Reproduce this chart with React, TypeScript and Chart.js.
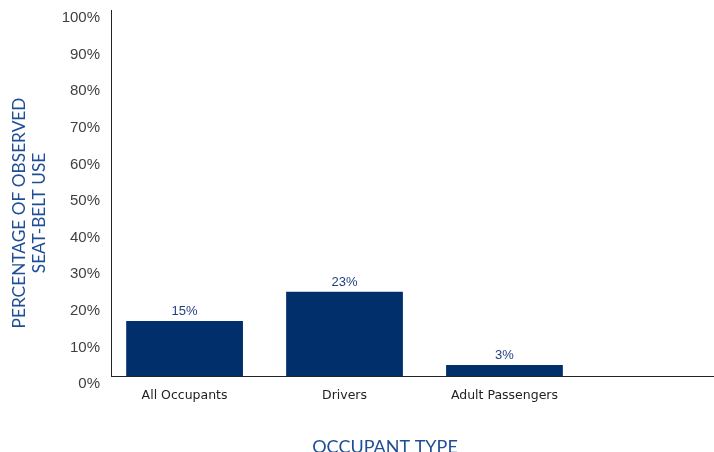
import React, { useEffect, useRef } from "react";
import { Chart, registerables } from "chart.js";

Chart.register(...registerables);

const categories = ["All Occupants", "Drivers", "Adult Passengers"];
const values = [15, 23, 3];
const valueLabels = ["15%", "23%", "3%"];
const yTicks = [0, 10, 20, 30, 40, 50, 60, 70, 80, 90, 100];
const yTitleLines = ["PERCENTAGE OF OBSERVED", "SEAT-BELT USE"];
const xTitle = "OCCUPANT TYPE";

const Y_TITLE_FONT = '17.3px Lato, "DejaVu Sans Condensed", sans-serif';
const X_TITLE_FONT = '18px Lato, "DejaVu Sans Condensed", sans-serif';
const TITLE_COLOR = "#1F4E96";

const labelsPlugin = {
  id: "barLabels",
  afterDatasetsDraw(chart: any) {
    const ctx = chart.ctx;
    const meta = chart.getDatasetMeta(0);
    ctx.save();
    ctx.font = '13px "Liberation Sans", Arial, sans-serif';
    ctx.fillStyle = "#1F3F80";
    ctx.textAlign = "center";
    ctx.textBaseline = "bottom";
    meta.data.forEach((el: any, i: number) => {
      ctx.fillText(valueLabels[i], el.x, el.y - 3);
    });
    ctx.restore();
  },
};

const titlesPlugin = {
  id: "axisTitles",
  afterDraw(chart: any) {
    const ctx = chart.ctx;
    ctx.save();
    ctx.fillStyle = TITLE_COLOR;
    ctx.textAlign = "center";
    ctx.textBaseline = "alphabetic";
    ctx.font = Y_TITLE_FONT;
    const xs = [25, 45];
    yTitleLines.forEach((line, i) => {
      ctx.save();
      ctx.translate(xs[i], 213);
      ctx.rotate(-Math.PI / 2);
      ctx.fillText(line, 0, 0);
      ctx.restore();
    });
    ctx.font = X_TITLE_FONT;
    ctx.fillText(xTitle, 385, 453);
    ctx.restore();
  },
};

export default function App() {
  const ref = useRef<HTMLCanvasElement | null>(null);

  useEffect(() => {
    document.body.style.margin = "0";
    if (!ref.current) return;
    const chart = new Chart(ref.current, {
      type: "bar",
      data: {
        datasets: [
          {
            data: values.map((v, i) => ({ x: i, y: v })),
            backgroundColor: "#002F6C",
            borderWidth: 0,
            barPercentage: 0.73,
            categoryPercentage: 1,
          },
        ],
      },
      options: {
        responsive: false,
        animation: false,
        layout: { padding: { top: 10, left: 0, right: 0, bottom: 0 } },
        plugins: {
          legend: { display: false },
          tooltip: { enabled: false },
          title: { display: false },
        },
        scales: {
          x: {
            type: "linear",
            offset: false,
            min: -0.46,
            max: 3.31,
            grid: { display: false, drawTicks: false, offset: false },
            border: { display: true, color: "#222", width: 1 },
            afterBuildTicks: (scale: any) => {
              scale.ticks = categories.map((_, i) => ({ value: i }));
            },
            afterFit: (scale: any) => {
              scale.height = 76;
              scale.paddingLeft = 0;
              scale.paddingRight = 0;
            },
            ticks: {
              autoSkip: false,
              maxRotation: 0,
              padding: 12,
              color: "#222",
              font: { family: '"DejaVu Sans", sans-serif', size: 12.5 },
              callback: (v: any) => categories[v as number] ?? "",
            },
          },
          y: {
            min: 0,
            max: 100,
            grid: { display: false, drawTicks: false },
            border: { display: true, color: "#222", width: 1 },
            afterBuildTicks: (scale: any) => {
              scale.ticks = yTicks.map((v) => ({ value: v }));
            },
            afterFit: (scale: any) => {
              scale.width = 111;
              scale.paddingTop = 0;
              scale.paddingBottom = 0;
            },
            ticks: {
              padding: 11,
              labelOffset: 8,
              color: "#404040",
              font: { family: '"Liberation Sans", Arial, sans-serif', size: 15 },
              callback: (v: any) => v + "%",
            },
          },
        },
      },
      plugins: [labelsPlugin, titlesPlugin],
    });
    return () => chart.destroy();
  }, []);

  return (
    <div style={{ width: 714, height: 452 }}>
      <canvas ref={ref} width={714} height={452} />
    </div>
  );
}
